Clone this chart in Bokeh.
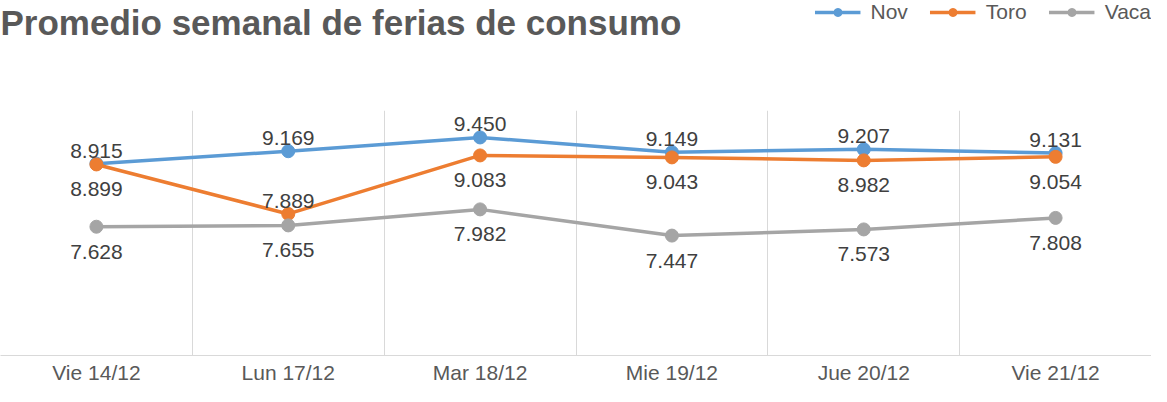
from bokeh.plotting import figure
from bokeh.layouts import column
from bokeh.models import (FactorRange, Range1d, FixedTicker, ColumnDataSource,
                          Legend, LegendItem, Label)
from bokeh.core.properties import value
from bokeh.embed import file_html
from bokeh.resources import INLINE

# ---------------- data ----------------
title_text = "Promedio semanal de ferias de consumo"
categories = ["Vie 14/12", "Lun 17/12", "Mar 18/12", "Mie 19/12", "Jue 20/12", "Vie 21/12"]
series_names = ["Nov", "Toro", "Vaca"]
nov = [8915, 9169, 9450, 9149, 9207, 9131]
toro = [8899, 7889, 9083, 9043, 8982, 9054]
vaca = [7628, 7655, 7982, 7447, 7573, 7808]

# label side per point (layout choice, not data)
label_sides = {
    "Nov": ["above"] * 6,
    "Toro": ["below", "above", "below", "below", "below", "below"],
    "Vaca": ["below"] * 6,
}
colors = {"Nov": "#5B9BD5", "Toro": "#ED7D31", "Vaca": "#A5A5A5"}
FONT = "Liberation Sans"

W = 1151
HEAD_H = 44
MAIN_H = 386 - HEAD_H
TOP, BOTTOM = 110 - HEAD_H, 28

# ---------------- header (title + legend) ----------------
h = figure(width=W, height=HEAD_H, output_backend="svg", toolbar_location=None,
           x_range=Range1d(0, 1), y_range=Range1d(0, 1),
           x_axis_location=None, y_axis_location=None,
           min_border_left=0, min_border_right=0, min_border_top=0, min_border_bottom=0)
h.outline_line_color = None
h.xgrid.grid_line_color = None
h.ygrid.grid_line_color = None

# ---------------- main chart ----------------
p = figure(width=W, height=MAIN_H, output_backend="svg", toolbar_location=None,
           x_range=FactorRange(*categories), y_range=Range1d(5000, 10000),
           y_axis_location=None, min_border_left=0, min_border_right=0,
           min_border_top=TOP, min_border_bottom=BOTTOM)
p.outline_line_color = None

p.ygrid.grid_line_color = None
p.xgrid.ticker = FixedTicker(ticks=list(range(len(categories) + 1)))
p.xgrid.grid_line_color = "#D9D9D9"
p.xgrid.grid_line_width = 1

ax = p.xaxis[0]
ax.axis_line_color = "#D9D9D9"
ax.axis_line_width = 1
ax.major_tick_line_color = None
ax.minor_tick_line_color = None
ax.major_tick_in = 0
ax.major_tick_out = 0
ax.major_label_standoff = 5
ax.major_label_text_font = FONT
ax.major_label_text_font_size = "21px"
ax.major_label_text_color = "#595959"

def fmt(v):
    return f"{v:,}".replace(",", ".")

nan = float("nan")
legend_items = []
for name, vals in zip(series_names, [nov, toro, vaca]):
    src = ColumnDataSource(dict(
        x=categories, y=vals,
        lbl=[fmt(v) for v in vals],
        yoff=[-13 if s == "above" else 25 for s in label_sides[name]],
    ))
    c = colors[name]
    p.line("x", "y", source=src, line_color=c, line_width=3.5,
           line_join="round", line_cap="round")
    p.scatter("x", "y", source=src, size=13, fill_color=c, line_color=c)
    p.text("x", "y", text="lbl", source=src, y_offset="yoff",
           text_align="center", text_baseline="alphabetic",
           text_font=value(FONT), text_font_size="21px", text_color="#404040")
    # legend swatches in the header (same styling, no visible data point)
    hl = h.line(x=[nan], y=[nan], line_color=c, line_width=3.5)
    hs = h.scatter(x=[nan], y=[nan], size=13, fill_color=c, line_color=c)
    legend_items.append(LegendItem(label=name, renderers=[hl, hs]))

legend = Legend(items=legend_items, orientation="horizontal", location="top_right",
                label_text_font=FONT, label_text_font_size="21px",
                label_text_color="#595959", glyph_width=46, glyph_height=20,
                spacing=22, padding=2, margin=0, label_standoff=10,
                border_line_color=None, background_fill_alpha=0)
h.add_layout(legend)

title = Label(x=0, y=HEAD_H - 2, x_units="screen", y_units="screen",
              text=title_text, text_baseline="top", text_align="left",
              text_font=FONT, text_font_size="35px", text_font_style="bold",
              text_color="#595959")
h.add_layout(title)

layout = column(h, p, spacing=0)
open("out.html", "w").write(file_html(layout, INLINE))
